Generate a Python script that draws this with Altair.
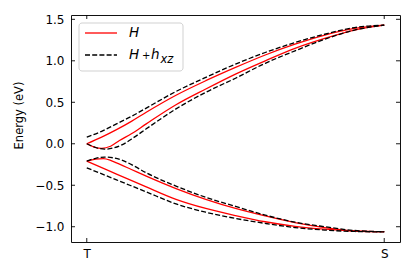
import altair as alt
import pandas as pd

# ---- data (k: T=0 -> S=1, energy in eV) ----
h_up1_k = [0, 0.05, 0.1, 0.15, 0.2, 0.3, 0.4, 0.5, 0.6, 0.7, 0.8, 0.9, 1.0]
h_up1_e = [0.0, 0.08, 0.17, 0.27, 0.38, 0.585, 0.76, 0.92, 1.07, 1.20, 1.31, 1.39, 1.43]

h_up2_k = [0, 0.025, 0.05, 0.08, 0.11, 0.15, 0.2, 0.3, 0.4, 0.5, 0.6, 0.7, 0.8, 0.9, 1.0]
h_up2_e = [0.0, -0.04, -0.055, -0.03, 0.04, 0.12, 0.24, 0.47, 0.66, 0.84, 1.00, 1.15, 1.27, 1.37, 1.43]

x_up1_k = [0, 0.05, 0.1, 0.15, 0.2, 0.3, 0.4, 0.5, 0.6, 0.7, 0.8, 0.9, 1.0]
x_up1_e = [0.08, 0.15, 0.24, 0.33, 0.43, 0.63, 0.80, 0.96, 1.10, 1.22, 1.32, 1.40, 1.43]

x_up2_k = [0, 0.03, 0.06, 0.09, 0.12, 0.16, 0.2, 0.3, 0.4, 0.5, 0.6, 0.7, 0.8, 0.9, 1.0]
x_up2_e = [0.0, -0.045, -0.065, -0.05, -0.01, 0.08, 0.18, 0.42, 0.62, 0.79, 0.97, 1.12, 1.26, 1.37, 1.43]

h_lo1_k = [0, 0.03, 0.056, 0.08, 0.1, 0.15, 0.2, 0.3, 0.4, 0.5, 0.6, 0.7, 0.8, 0.9, 1.0]
h_lo1_e = [-0.21, -0.185, -0.18, -0.20, -0.23, -0.31, -0.39, -0.54, -0.67, -0.78, -0.87, -0.95, -1.01, -1.05, -1.06]

h_lo2_k = [0, 0.1, 0.2, 0.3, 0.4, 0.5, 0.6, 0.7, 0.8, 0.9, 1.0]
h_lo2_e = [-0.21, -0.365, -0.52, -0.67, -0.78, -0.865, -0.94, -0.995, -1.03, -1.052, -1.06]

x_lo1_k = [0, 0.03, 0.06, 0.09, 0.12, 0.16, 0.2, 0.3, 0.4, 0.5, 0.6, 0.7, 0.8, 0.9, 1.0]
x_lo1_e = [-0.21, -0.175, -0.16, -0.17, -0.2, -0.27, -0.35, -0.51, -0.645, -0.755, -0.86, -0.945, -1.0, -1.045, -1.06]

x_lo2_k = [0, 0.1, 0.2, 0.3, 0.4, 0.5, 0.6, 0.7, 0.8, 0.9, 1.0]
x_lo2_e = [-0.29, -0.435, -0.58, -0.725, -0.825, -0.9, -0.96, -1.01, -1.04, -1.057, -1.062]

x_tick_vals = [0, 1]
x_tick_text = ["T", "S"]
y_tick_vals = [-1.0, -0.5, 0.0, 0.5, 1.0, 1.5]

series_names = ["H", "H + h_xz"]
series_colors = ["#ff0000", "#000000"]

rows = []
def add(name, series, ks, es):
    for i, (k, e) in enumerate(zip(ks, es)):
        rows.append({"curve": name, "series": series, "k": k, "E": e, "i": i})

add("h_up1", "H", h_up1_k, h_up1_e)
add("h_up2", "H", h_up2_k, h_up2_e)
add("h_lo1", "H", h_lo1_k, h_lo1_e)
add("h_lo2", "H", h_lo2_k, h_lo2_e)
add("x_up1", "H + h_xz", x_up1_k, x_up1_e)
add("x_up2", "H + h_xz", x_up2_k, x_up2_e)
add("x_lo1", "H + h_xz", x_lo1_k, x_lo1_e)
add("x_lo2", "H + h_xz", x_lo2_k, x_lo2_e)
df = pd.DataFrame(rows)

W, Hh = 329, 227
FONT = "DejaVu Sans"

xscale = alt.Scale(domain=[-0.053, 1.053], nice=False, zero=False)
yscale = alt.Scale(domain=[-1.184, 1.552], nice=False, zero=False)

label_expr = "datum.value == 0 ? '" + x_tick_text[0] + "' : '" + x_tick_text[1] + "'"
x_axis = alt.Axis(values=x_tick_vals, labelExpr=label_expr, ticks=False, tickSize=0,
                  domain=False, grid=False, labelFont=FONT, labelFontSize=12,
                  labelColor="black", labelPadding=6, title=None)
y_axis = alt.Axis(values=y_tick_vals, format=".1f", ticks=False, tickSize=0,
                  domain=False, grid=False, labelFont=FONT, labelFontSize=12,
                  labelColor="black", labelPadding=7, title="Energy (eV)",
                  titleFont=FONT, titleFontSize=11.5, titleFontWeight="normal",
                  titleColor="black", titlePadding=10, titleY=100)

X = alt.X("k:Q", scale=xscale, axis=x_axis)
Y = alt.Y("E:Q", scale=yscale, axis=y_axis)

red = alt.Chart(df).transform_filter(alt.datum.series == "H").mark_line(
    color=series_colors[0], strokeWidth=1.3, interpolate="monotone"
).encode(x=X, y=Y, detail="curve:N", order="i:Q")

black = alt.Chart(df).transform_filter(alt.datum.series == "H + h_xz").mark_line(
    color=series_colors[1], strokeWidth=1.3, strokeDash=[5, 2.2], interpolate="monotone"
).encode(x=X, y=Y, detail="curve:N", order="i:Q")

ydf = pd.DataFrame({"E": y_tick_vals})
xdf = pd.DataFrame({"k": x_tick_vals})
tick_style = dict(color="black", strokeWidth=0.9)
yt_left = alt.Chart(ydf).mark_rule(**tick_style).encode(y=Y, x=alt.value(0), x2=alt.value(4))
yt_right = alt.Chart(ydf).mark_rule(**tick_style).encode(y=Y, x=alt.value(W - 4), x2=alt.value(W))
xt_bot = alt.Chart(xdf).mark_rule(**tick_style).encode(x=X, y=alt.value(Hh - 4), y2=alt.value(Hh))
xt_top = alt.Chart(xdf).mark_rule(**tick_style).encode(x=X, y=alt.value(0), y2=alt.value(4))

one = pd.DataFrame({"a": [0]})
leg_box = alt.Chart(one).mark_rect(fill="white", fillOpacity=0.8, stroke="#cccccc",
                                   strokeWidth=0.9, cornerRadius=3).encode(
    x=alt.value(8), x2=alt.value(112), y=alt.value(8), y2=alt.value(56))
leg_red = alt.Chart(one).mark_rule(color=series_colors[0], strokeWidth=1.3).encode(
    x=alt.value(14), x2=alt.value(46), y=alt.value(18))
leg_black = alt.Chart(one).mark_rule(color=series_colors[1], strokeWidth=1.3,
                                     strokeDash=[5, 2.2]).encode(
    x=alt.value(14), x2=alt.value(46), y=alt.value(40))

def txt(s, x, y, size, italic=True):
    return alt.Chart(one).mark_text(text=s, font=FONT, fontSize=size,
                                    fontStyle="italic" if italic else "normal",
                                    align="left", baseline="middle", color="black").encode(
        x=alt.value(x), y=alt.value(y))

leg_t1 = txt("H", 58, 18, 13.5)
leg_t2 = txt("H", 58, 40, 13.5)
leg_t3 = txt("+", 71, 40.5, 10, italic=False)
leg_t4 = txt("h", 80, 40, 13.5)
leg_t5 = txt("xz", 89.5, 44.5, 11.5)

chart = alt.layer(
    red, black, yt_left, yt_right, xt_bot, xt_top,
    leg_box, leg_red, leg_black, leg_t1, leg_t2, leg_t3, leg_t4, leg_t5
).properties(
    width=W, height=Hh,
    padding={"left": 63, "top": 7, "right": 7, "bottom": 27},
    autosize=alt.AutoSizeParams(type="none"),
    background="white",
).configure_view(stroke="#111111", strokeWidth=1)

chart.save("out.html", embed_options={"renderer": "svg", "actions": False})
